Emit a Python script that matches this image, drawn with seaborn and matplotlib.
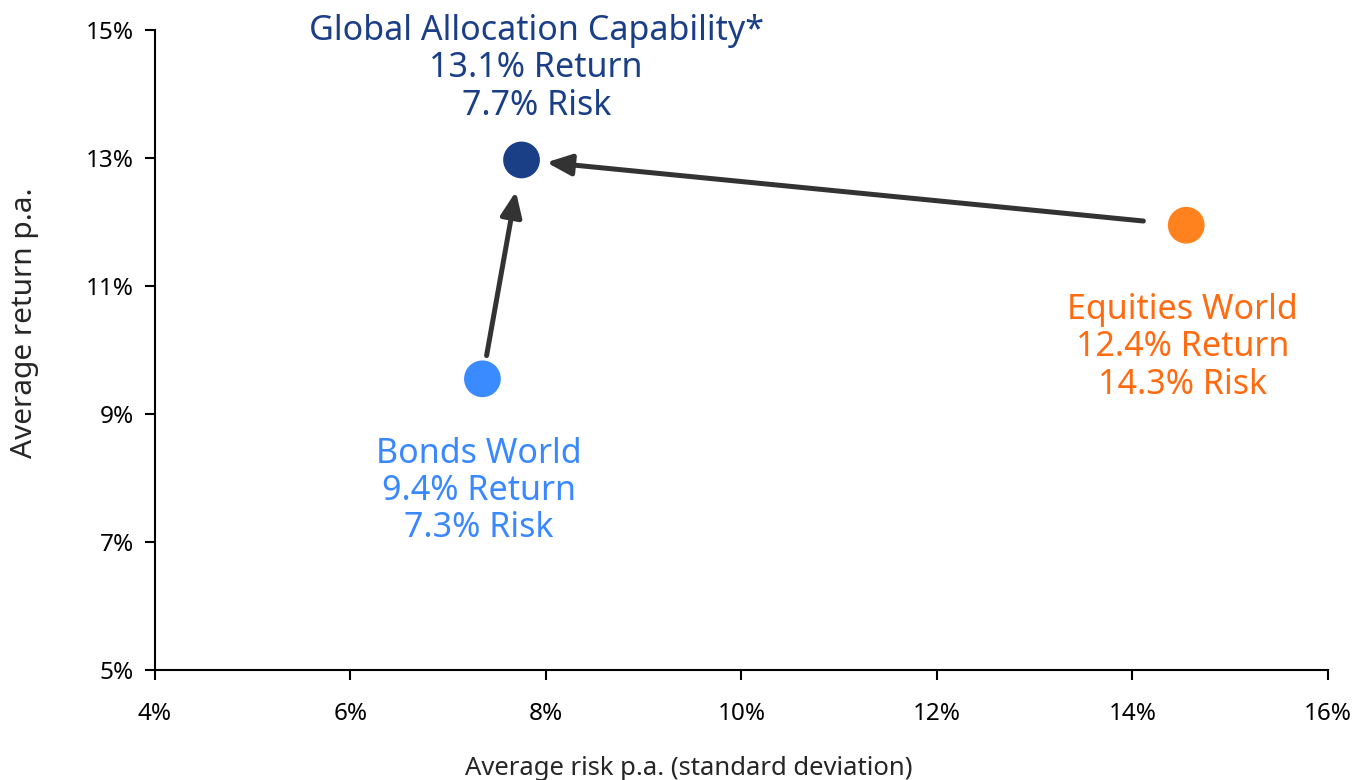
import numpy as np
import pandas as pd
import matplotlib
matplotlib.use("Agg")
import matplotlib.pyplot as plt
import seaborn as sns

# data
names = ["Global Allocation Capability*", "Bonds World", "Equities World"]
risk = [7.75, 7.35, 14.55]          # plotted position, % p.a.
ret = [12.97, 9.55, 11.95]          # plotted position, % p.a.
label_return = [13.1, 9.4, 12.4]
label_risk = [7.7, 7.3, 14.3]
colors = ["#1A3F87", "#3A8BFF", "#FF821E"]
text_colors = ["#1A3F87", "#3A88FF", "#FF6B10"]
label_pos_x = [7.90, 7.31, 14.51]
label_pos_y = [14.40, 7.80, 10.04]
x_ticks = [4, 6, 8, 10, 12, 14, 16]
y_ticks = [5, 7, 9, 11, 13, 15]

df = pd.DataFrame({"name": names, "risk": risk, "ret": ret})

sns.set_style("white")
plt.rcParams["font.family"] = ["Noto Sans", "DejaVu Sans"]

fig, ax = plt.subplots(figsize=(13.57, 7.8), dpi=100)
fig.subplots_adjust(left=0.1142, right=0.9786, top=0.9615, bottom=0.141)

sns.scatterplot(data=df, x="risk", y="ret", hue="name", palette=colors,
                s=700, edgecolor="none", legend=False, ax=ax, zorder=3)

# arrows: equities -> global, bonds -> global
arrow_kw = dict(arrowstyle="-|>,head_length=0.75,head_width=0.32", color="#333333",
                lw=3.6, mutation_scale=20)
ax.annotate("", xy=(risk[0], ret[0]), xytext=(risk[2], ret[2]),
            arrowprops=dict(shrinkA=31, shrinkB=18, **arrow_kw), zorder=2)
ax.annotate("", xy=(risk[0], ret[0]), xytext=(risk[1], ret[1]),
            arrowprops=dict(shrinkA=17, shrinkB=23, **arrow_kw), zorder=2)

for i in range(len(names)):
    txt = f"{names[i]}\n{label_return[i]:.1f}% Return\n{label_risk[i]:.1f}% Risk"
    ax.text(label_pos_x[i], label_pos_y[i], txt, color=text_colors[i], fontsize=24.5,
            ha="center", va="center", linespacing=1.12, clip_on=False)

ax.set_xlim(4, 16)
ax.set_ylim(5, 15)
ax.set_xticks(x_ticks)
ax.set_yticks(y_ticks)
ax.set_xticklabels([f"{t}%" for t in x_ticks])
ax.set_yticklabels([f"{t}%" for t in y_ticks])
ax.tick_params(axis="both", direction="out", length=7, width=1.5, labelsize=17.5,
               colors="black", bottom=True, left=True)
ax.tick_params(axis="x", pad=16)
ax.tick_params(axis="y", pad=8)

for side in ["top", "right"]:
    ax.spines[side].set_visible(False)
for side in ["left", "bottom"]:
    ax.spines[side].set_color("black")
    ax.spines[side].set_linewidth(1.5)

ax.set_xlabel("Average risk p.a. (standard deviation)", fontsize=18.5)
ax.set_ylabel("Average return p.a.", fontsize=21.5)
ax.xaxis.set_label_coords(0.455, -0.134)
ax.yaxis.set_label_coords(-0.099, 0.542)

plt.savefig("out.png", dpi=100)
